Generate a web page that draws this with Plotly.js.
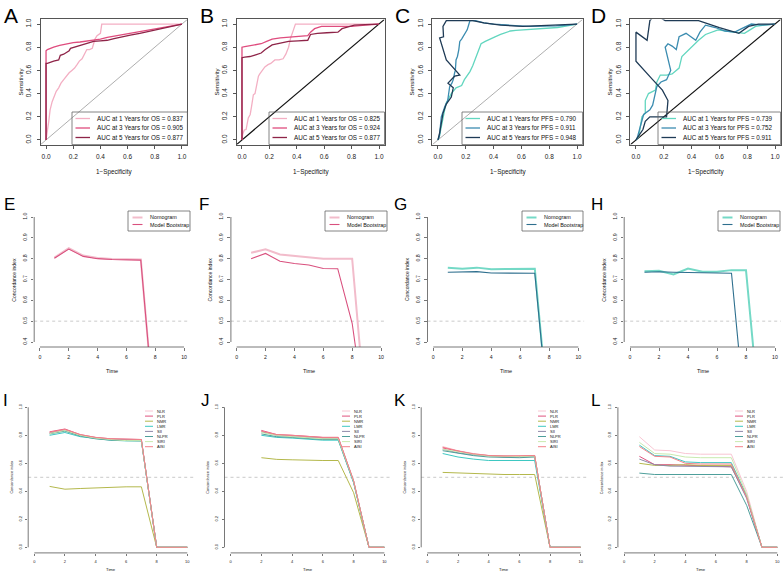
<!DOCTYPE html>
<html><head><meta charset="utf-8">
<script src="https://cdn.plot.ly/plotly-3.0.1.min.js"></script>
<style>html,body{margin:0;padding:0;background:#fff}#chart{width:784px;height:572px}</style>
</head><body><div id="chart"></div>
<script>
// ---------------- DATA ----------------
// Row 1: time-dependent ROC curves (FPR = 1-Specificity, TPR = Sensitivity)
const rocTicks = [0, 0.2, 0.4, 0.6, 0.8, 1.0];
const A_fpr1 = [0,0.005,0.01,0.02,0.03,0.045,0.056,0.075,0.093,0.11,0.13,0.154,0.17,0.19,0.21,0.228,0.245,0.265,0.28,0.29,0.30,0.32,0.34,0.35,0.36,0.375,0.39,0.40,0.41,0.5,0.7,1.0];
const A_tpr1 = [0,0.03,0.08,0.16,0.26,0.33,0.37,0.42,0.45,0.49,0.52,0.56,0.58,0.60,0.62,0.65,0.68,0.70,0.73,0.75,0.78,0.78,0.79,0.83,0.87,0.90,0.91,0.92,1.0,1.0,1.0,1.0];
const A_fpr3 = [0,0,0.01,0.03,0.056,0.1,0.154,0.2,0.25,0.28,0.33,0.40,0.45,0.52,0.6,0.69,0.75,0.82,0.9,1.0];
const A_tpr3 = [0,0.77,0.78,0.79,0.80,0.815,0.83,0.84,0.845,0.85,0.86,0.87,0.885,0.90,0.915,0.93,0.945,0.96,0.98,1.0];
const A_fpr5 = [0,0,0.01,0.03,0.056,0.093,0.1,0.105,0.13,0.154,0.17,0.18,0.21,0.25,0.3,0.35,0.4,0.45,0.5,0.55,0.62,0.69,0.75,0.82,0.9,1.0];
const A_tpr5 = [0,0.66,0.66,0.67,0.68,0.69,0.71,0.73,0.74,0.76,0.77,0.79,0.80,0.82,0.835,0.85,0.855,0.86,0.875,0.89,0.905,0.92,0.935,0.95,0.97,1.0];

const B_fpr1 = [0,0.005,0.017,0.03,0.046,0.06,0.07,0.083,0.095,0.107,0.12,0.13,0.143,0.167,0.19,0.21,0.24,0.27,0.30,0.32,0.34,0.355,0.37,0.39,0.5,0.75,1.0];
const B_tpr1 = [0,0.05,0.086,0.09,0.19,0.22,0.29,0.39,0.40,0.46,0.55,0.57,0.59,0.63,0.65,0.66,0.69,0.69,0.70,0.74,0.80,0.88,0.93,1.0,1.0,1.0,1.0];
const B_fpr3 = [0,0,0.02,0.046,0.1,0.14,0.18,0.22,0.28,0.34,0.41,0.48,0.50,0.53,0.58,0.7,0.8,0.9,1.0];
const B_tpr3 = [0,0.80,0.805,0.81,0.82,0.83,0.85,0.87,0.88,0.885,0.895,0.90,0.93,0.96,0.98,0.98,0.98,0.99,1.0];
const B_fpr5 = [0,0,0.02,0.058,0.1,0.14,0.17,0.2,0.22,0.28,0.34,0.41,0.48,0.50,0.55,0.62,0.70,0.73,0.78,0.82,0.9,1.0];
const B_tpr5 = [0,0.71,0.715,0.72,0.735,0.75,0.78,0.80,0.82,0.835,0.85,0.855,0.86,0.91,0.92,0.925,0.93,0.96,0.98,0.99,0.995,1.0];

const C_fpr1 = [0,0.012,0.025,0.036,0.05,0.06,0.08,0.096,0.13,0.17,0.19,0.21,0.23,0.25,0.265,0.28,0.29,0.31,0.34,0.37,0.41,0.45,0.49,0.52,0.56,0.61,0.67,0.73,0.8,0.86,0.93,1.0];
const C_tpr1 = [0,0.04,0.12,0.2,0.27,0.32,0.36,0.40,0.45,0.47,0.52,0.55,0.59,0.64,0.69,0.74,0.78,0.83,0.85,0.87,0.89,0.91,0.925,0.94,0.945,0.95,0.955,0.96,0.965,0.97,0.985,1.0];
const C_fpr3 = [0,0.01,0.024,0.04,0.05,0.07,0.084,0.1,0.11,0.12,0.125,0.13,0.14,0.15,0.157,0.17,0.18,0.19,0.2,0.21,0.22,0.23,0.27,0.33,0.4,0.49,0.58,0.66,0.75,0.85,0.93,1.0];
const C_tpr3 = [0,0.03,0.20,0.26,0.29,0.34,0.46,0.49,0.52,0.58,0.60,0.69,0.72,0.78,0.85,0.87,0.89,0.91,0.93,0.95,0.99,1.03,1.03,1.01,1.0,0.99,0.985,0.98,0.98,0.985,0.99,1.0];
const C_fpr5 = [0,0.012,0.036,0.06,0.096,0.11,0.072,0.12,0.157,0.06,0.012,0.04,0.036,0.06,0.15,0.25,0.33,0.45,0.61,0.7,0.8,0.9,1.0];
const C_tpr5 = [0,0.06,0.23,0.31,0.37,0.45,0.49,0.55,0.56,0.69,0.88,0.89,0.98,1.03,1.03,1.03,1.01,0.99,0.98,0.985,0.99,0.99,1.0];

const D_fpr1 = [0,0.02,0.043,0.067,0.067,0.09,0.14,0.15,0.175,0.22,0.26,0.31,0.33,0.38,0.45,0.50,0.55,0.59,0.65,0.72,0.78,0.82,0.86,0.92,1.0];
const D_tpr1 = [0,0.03,0.20,0.23,0.34,0.40,0.43,0.50,0.56,0.56,0.57,0.62,0.72,0.78,0.86,0.91,0.93,0.95,0.94,0.93,0.92,0.95,0.98,0.99,1.0];
const D_fpr3 = [0,0.007,0.03,0.055,0.1,0.12,0.15,0.18,0.22,0.25,0.21,0.23,0.26,0.29,0.31,0.36,0.43,0.46,0.50,0.57,0.64,0.71,0.76,0.83,0.9,1.0];
const D_tpr3 = [0,0.01,0.11,0.22,0.26,0.30,0.46,0.50,0.52,0.60,0.80,0.83,0.81,0.78,0.89,0.92,0.86,0.93,0.99,0.97,0.94,0.93,0.96,1.0,0.99,1.0];
const D_fpr5 = [0,0.05,0.067,0.1,0.16,0.22,0.23,0.19,0.12,0.0,0.0,0.08,0.10,0.14,0.21,0.33,0.45,0.6,0.74,0.81,0.88,1.0];
const D_tpr5 = [0,0.09,0.16,0.20,0.20,0.20,0.34,0.43,0.52,0.68,0.93,0.86,1.03,1.08,1.03,1.03,1.03,0.97,0.92,0.98,1.0,1.0];

const rocLabelsOS  = ["AUC at 1 Years for OS = 0.837","AUC at 3 Years for OS = 0.905","AUC at 5 Years for OS = 0.877"];
const rocLabelsOSB = ["AUC at 1 Years for OS = 0.825","AUC at 3 Years for OS = 0.924","AUC at 5 Years for OS = 0.877"];
const rocLabelsPFS = ["AUC at 1 Years for PFS = 0.790","AUC at 3 Years for PFS = 0.911","AUC at 5 Years for PFS = 0.948"];
const rocLabelsPFSD= ["AUC at 1 Years for PFS = 0.739","AUC at 3 Years for PFS = 0.752","AUC at 5 Years for PFS = 0.911"];

// Row 2: C-index over time, nomogram vs bootstrap
const E_time = [1,2,3,4,5,6,7,8];
const E_nomo = [0.805,0.850,0.815,0.803,0.799,0.797,0.796,0];
const E_boot = [0.802,0.846,0.811,0.800,0.796,0.794,0.793,0];
const F_time = [1,2,3,4,5,6,7,8,9];
const F_nomo = [0.828,0.845,0.820,0.813,0.808,0.800,0.800,0.800,0];
const F_boot = [0.800,0.825,0.788,0.777,0.770,0.753,0.752,0.490,0];
const G_time = [1,2,3,4,5,6,7,8];
const G_nomo = [0.757,0.752,0.757,0.749,0.750,0.751,0.752,0];
const G_boot = [0.735,0.735,0.738,0.731,0.730,0.730,0.730,0];
const H_time = [1,2,3,4,5,6,7,8,9];
const H_nomo = [0.740,0.742,0.724,0.753,0.737,0.737,0.745,0.745,0];
const H_boot = [0.735,0.737,0.735,0.733,0.732,0.731,0.730,0,0];
const cLegend = ["Nomogram","Model Bootstrap"];

// Row 3: C-index over time for inflammatory markers
const markers = ["NLR","PLR","NMR","LMR","SII","NLPR","SIRI","AISI"];
const I_time = [1,2,3,4,5,6,7,8,9,10];
const I_NLR  = [0.820,0.840,0.800,0.780,0.770,0.765,0.765,0,0,0];
const I_PLR  = [0.825,0.845,0.805,0.785,0.775,0.770,0.770,0,0,0];
const I_NMR  = [0.435,0.415,0.420,0.425,0.430,0.432,0.432,0,0,0];
const I_LMR  = [0.800,0.820,0.790,0.775,0.765,0.760,0.760,0,0,0];
const I_SII  = [0.815,0.835,0.800,0.780,0.770,0.765,0.765,0,0,0];
const I_NLPR = [0.810,0.830,0.795,0.775,0.765,0.760,0.760,0,0,0];
const I_SIRI = [0.812,0.835,0.800,0.780,0.770,0.762,0.762,0,0,0];
const I_AISI = [0.822,0.842,0.805,0.785,0.775,0.770,0.770,0,0,0];
const J_time = [2,3,4,5,6,7,8,9,10];
const J_NLR  = [0.830,0.800,0.795,0.785,0.780,0.780,0.470,0,0];
const J_PLR  = [0.835,0.805,0.800,0.790,0.785,0.785,0.475,0,0];
const J_NMR  = [0.640,0.628,0.625,0.620,0.620,0.620,0.390,0,0];
const J_LMR  = [0.800,0.785,0.780,0.770,0.765,0.765,0.460,0,0];
const J_SII  = [0.825,0.800,0.790,0.782,0.778,0.778,0.470,0,0];
const J_NLPR = [0.810,0.790,0.785,0.775,0.770,0.770,0.465,0,0];
const J_SIRI = [0.820,0.800,0.790,0.780,0.775,0.775,0.470,0,0];
const J_AISI = [0.830,0.805,0.800,0.790,0.785,0.785,0.475,0,0];
const K_time = [1,2,3,4,5,6,7,8,9,10];
const K_NLR  = [0.720,0.690,0.670,0.655,0.650,0.650,0.655,0,0,0];
const K_PLR  = [0.710,0.685,0.665,0.655,0.650,0.650,0.655,0,0,0];
const K_NMR  = [0.535,0.530,0.528,0.525,0.520,0.520,0.520,0,0,0];
const K_LMR  = [0.670,0.645,0.630,0.620,0.620,0.620,0.620,0,0,0];
const K_SII  = [0.700,0.675,0.660,0.650,0.645,0.645,0.650,0,0,0];
const K_NLPR = [0.690,0.670,0.655,0.645,0.640,0.640,0.645,0,0,0];
const K_SIRI = [0.700,0.680,0.665,0.652,0.648,0.648,0.652,0,0,0];
const K_AISI = [0.715,0.688,0.668,0.656,0.652,0.652,0.656,0,0,0];
const L_time = [1,2,3,4,5,6,7,8,9,10];
const L_NLR  = [0.790,0.695,0.690,0.670,0.665,0.665,0.665,0.400,0,0];
const L_PLR  = [0.650,0.590,0.590,0.585,0.580,0.578,0.575,0.360,0,0];
const L_NMR  = [0.600,0.585,0.585,0.590,0.585,0.585,0.585,0.370,0,0];
const L_LMR  = [0.730,0.655,0.650,0.610,0.605,0.605,0.605,0.370,0,0];
const L_SII  = [0.630,0.590,0.580,0.580,0.575,0.575,0.575,0.350,0,0];
const L_NLPR = [0.530,0.520,0.520,0.520,0.520,0.520,0.520,0.300,0,0];
const L_SIRI = [0.750,0.670,0.665,0.645,0.640,0.640,0.640,0.380,0,0];
const L_AISI = [0.720,0.650,0.645,0.600,0.595,0.595,0.595,0.360,0,0];

// ---------------- STYLE ----------------
const FONT = "Liberation Sans, Arial, Helvetica, sans-serif";
const W = 784, H = 572;
const pinkCols = ["#F3AFC3","#DF4C7E","#8E2448"];
const blueCols = ["#62D6BF","#3B8CB0","#1F3B56"];
const cPink = ["#F2BCCB","#D9507E"];
const cBlue = ["#74D9C6","#2E6F8E"];
const mCols = {NLR:"#F8C6D3",PLR:"#E0527F",NMR:"#B4B84C",LMR:"#3EC8C2",SII:"#8E89A8",NLPR:"#4E9F9B",SIRI:"#C9EAAF",AISI:"#F3828A"};

const data = [];
const shapes = [];
const annotations = [];
const layout = {
  width: W, height: H, margin: {l:0,r:0,t:0,b:0},
  paper_bgcolor: "#fff", plot_bgcolor: "#fff",
  showlegend: false, font: {family: FONT, color: "#222"},
  shapes: shapes, annotations: annotations
};

const px = v => v / W;
const py = v => 1 - v / H;

function axId(n){ return n === 1 ? "" : String(n); }

function addText(x, y, text, size, opts){
  annotations.push(Object.assign({xref:"paper", yref:"paper", x:px(x), y:py(y), text:text,
    showarrow:false, font:{family:FONT, size:size, color:"#111"}, xanchor:"center", yanchor:"middle"}, opts||{}));
}
function paperLine(x0,y0,x1,y1,color,width,dash){
  shapes.push({type:"line", xref:"paper", yref:"paper", x0:px(x0), y0:py(y0), x1:px(x1), y1:py(y1),
    line:{color:color, width:width, dash:dash||"solid"}});
}

// --- ROC panels ---
function rocPanel(n, box, series, labels, cols, diagColor, diagWidth, letter, legBox){
  const id = axId(n);
  layout["xaxis"+id] = {domain:[px(box[0]),px(box[1])], range:[-0.04,1.04], anchor:"y"+id,
    tickvals:rocTicks, tickformat:".1f", showline:true, mirror:true, linecolor:"#555", linewidth:1,
    ticks:"outside", ticklen:3, tickcolor:"#555", showgrid:false, zeroline:false,
    tickfont:{size:6.5, family:FONT, color:"#222"}, ticklabelstandoff:3};
  layout["yaxis"+id] = {domain:[py(box[3]),py(box[2])], range:[-0.04,1.04], anchor:"x"+id,
    tickvals:rocTicks, tickformat:".1f", showline:true, mirror:true, linecolor:"#555", linewidth:1,
    ticks:"outside", ticklen:3, tickcolor:"#555", showgrid:false, zeroline:false, tickangle:-90,
    tickfont:{size:6.5, family:FONT, color:"#222"}, ticklabelstandoff:3};
  shapes.push({type:"line", xref:"x"+id, yref:"y"+id, x0:-0.04, y0:-0.04, x1:1.04, y1:1.04,
    line:{color:diagColor, width:diagWidth}, layer:"below"});
  series.forEach((s,i)=>{
    data.push({type:"scatter", mode:"lines", x:s[0], y:s[1], xaxis:"x"+id, yaxis:"y"+id,
      line:{color:cols[i], width:1.3}, name:labels[i], hoverinfo:"skip"});
  });
  // legend (bottom-right box)
  shapes.push({type:"rect", xref:"paper", yref:"paper", x0:px(legBox[0]), x1:px(box[1]), y0:py(box[3]), y1:py(legBox[1]),
    line:{color:"#666", width:0.8}, fillcolor:"rgba(255,255,255,0)"});
  labels.forEach((t,i)=>{
    const yy = legBox[1] + 6.5 + i*9.5;
    paperLine(legBox[0]+3.5, yy, legBox[0]+18, yy, cols[i], 1.3);
    addText(legBox[0]+23, yy, t, 6.3, {xanchor:"left"});
  });
  addText(box[0]-20, (box[2]+box[3])/2, "Sensitivity", 6, {textangle:-90});
  addText((box[0]+box[1])/2, 172, "1\u2212Specificity", 6.3);
  addText(letter[1], letter[2], letter[0], 21, {xanchor:"left", font:{family:FONT,size:21,color:"#000"}});
}

const r1t = 19.4, r1b = 144.6;
rocPanel(1,[40.6,187.4,r1t,r1b],[[A_fpr1,A_tpr1],[A_fpr3,A_tpr3],[A_fpr5,A_tpr5]],rocLabelsOS,pinkCols,"#999",0.8,["A",2,15],[72,112]);
rocPanel(2,[236.5,384.5,r1t,r1b],[[B_fpr1,B_tpr1],[B_fpr3,B_tpr3],[B_fpr5,B_tpr5]],rocLabelsOSB,pinkCols,"#111",1.2,["B",198,15],[269,112]);
rocPanel(3,[432.4,582.6,r1t,r1b],[[C_fpr1,C_tpr1],[C_fpr3,C_tpr3],[C_fpr5,C_tpr5]],rocLabelsPFS,blueCols,"#999",0.8,["C",393,15],[462,112]);
rocPanel(4,[630.4,780.6,r1t,r1b],[[D_fpr1,D_tpr1],[D_fpr3,D_tpr3],[D_fpr5,D_tpr5]],rocLabelsPFSD,blueCols,"#111",1.2,["D",589,15],[658,112]);

// --- C-index panels (R style open axes) ---
function openAxes(n, box, yr, yticks, fs, tl){
  const id = axId(n);
  const pad = (yr[1]-yr[0])*0.04;
  layout["xaxis"+id] = {domain:[px(box[0]),px(box[1])], range:[-0.4,10.4], anchor:"y"+id,
    tickvals:[0,2,4,6,8,10], showline:false, ticks:"outside", ticklen:tl, tickcolor:"#555", tickwidth:0.8,
    showgrid:false, zeroline:false, tickfont:{size:fs, family:FONT, color:"#222"}, ticklabelstandoff:2};
  layout["yaxis"+id] = {domain:[py(box[3]),py(box[2])], range:[yr[0]-pad, yr[1]+pad], anchor:"x"+id,
    tickvals:yticks, tickformat:".1f", showline:false, ticks:"outside", ticklen:tl, tickcolor:"#555", tickwidth:0.8,
    showgrid:false, zeroline:false, tickangle:-90, tickfont:{size:fs, family:FONT, color:"#222"}, ticklabelstandoff:2};
  shapes.push({type:"line", xref:"x"+id, yref:"y"+id+" domain", x0:0, x1:10, y0:0, y1:0, line:{color:"#555", width:0.8}});
  shapes.push({type:"line", xref:"x"+id+" domain", yref:"y"+id, x0:0, x1:0, y0:yr[0], y1:yr[1], line:{color:"#555", width:0.8}});
  shapes.push({type:"line", xref:"x"+id+" domain", yref:"y"+id, x0:0, x1:1, y0:0.5, y1:0.5, line:{color:"#c4c4c4", width:0.9, dash:"dot"}, layer:"below"});
}

function cPanel(n, box, t, nomo, boot, cols, letter, legX){
  const id = axId(n);
  openAxes(n, box, [0.4,1.0], [0.4,0.5,0.6,0.7,0.8,0.9,1.0], 5.2, 2.5);
  data.push({type:"scatter", mode:"lines", x:t, y:nomo, xaxis:"x"+id, yaxis:"y"+id, line:{color:cols[0], width:2}, name:cLegend[0], hoverinfo:"skip"});
  data.push({type:"scatter", mode:"lines", x:t, y:boot, xaxis:"x"+id, yaxis:"y"+id, line:{color:cols[1], width:1.1}, name:cLegend[1], hoverinfo:"skip"});
  shapes.push({type:"rect", xref:"paper", yref:"paper", x0:px(legX[0]), x1:px(legX[1]), y0:py(231), y1:py(211), line:{color:"#666", width:0.8}});
  paperLine(legX[0]+4.5, 217.5, legX[0]+14.5, 217.5, cols[0], 2);
  paperLine(legX[0]+4.5, 224.5, legX[0]+14.5, 224.5, cols[1], 1.1);
  addText(legX[0]+19.5, 217.5, cLegend[0], 5.4, {xanchor:"left"});
  addText(legX[0]+19.5, 224.5, cLegend[1], 5.4, {xanchor:"left"});
  addText(box[0]-21, (box[2]+box[3])/2, "Concordance index", 5, {textangle:-90});
  addText((box[0]+box[1])/2, 371, "Time", 5.5);
  addText(letter[1], letter[2], letter[0], 17, {xanchor:"left", font:{family:FONT,size:17,color:"#000"}});
}

const r2t = 212, r2b = 347;
cPanel(5,[34.2,189.8,r2t,r2b],E_time,E_nomo,E_boot,cPink,["E",2,204],[128,190]);
cPanel(6,[230.9,386.8,r2t,r2b],F_time,F_nomo,F_boot,cPink,["F",197,204],[325,387]);
cPanel(7,[427.5,584.1,r2t,r2b],G_time,G_nomo,G_boot,cBlue,["G",392,204],[522,583]);
cPanel(8,[624.2,780.8,r2t,r2b],H_time,H_nomo,H_boot,cBlue,["H",589,204],[718,780]);

function mPanel(n, box, t, series, letter, legX){
  const id = axId(n);
  openAxes(n, box, [0,1], [0,0.2,0.4,0.6,0.8,1.0], 4, 2);
  markers.forEach((m,i)=>{
    data.push({type:"scatter", mode:"lines", x:t, y:series[i], xaxis:"x"+id, yaxis:"y"+id, line:{color:mCols[m], width:1}, name:m, hoverinfo:"skip"});
    const yy = 411 + i*5.1;
    paperLine(legX, yy, legX+8, yy, mCols[m], 1);
    addText(legX+10, yy, m, 4, {xanchor:"left"});
  });
  addText(box[0]-16, (box[2]+box[3])/2, "Concordance index", 3.8, {textangle:-90});
  addText((box[0]+box[1])/2, 569, "Time", 4.2);
  addText(letter[1], letter[2], letter[0], 17, {xanchor:"left", font:{family:FONT,size:17,color:"#000"}});
}

const r3t = 401.7, r3b = 552.9;
mPanel(9,[28.2,193.4,r3t,r3b],I_time,[I_NLR,I_PLR,I_NMR,I_LMR,I_SII,I_NLPR,I_SIRI,I_AISI],["I",1,400],145);
mPanel(10,[224.5,390.5,r3t,r3b],J_time,[J_NLR,J_PLR,J_NMR,J_LMR,J_SII,J_NLPR,J_SIRI,J_AISI],["J",199,400],342);
mPanel(11,[421.2,586.8,r3t,r3b],K_time,[K_NLR,K_PLR,K_NMR,K_LMR,K_SII,K_NLPR,K_SIRI,K_AISI],["K",392,400],538);
mPanel(12,[617.9,783.4,r3t,r3b],L_time,[L_NLR,L_PLR,L_NMR,L_LMR,L_SII,L_NLPR,L_SIRI,L_AISI],["L",589,400],735);

Plotly.newPlot("chart", data, layout, {staticPlot:true, displayModeBar:false});
</script>
</body></html>
